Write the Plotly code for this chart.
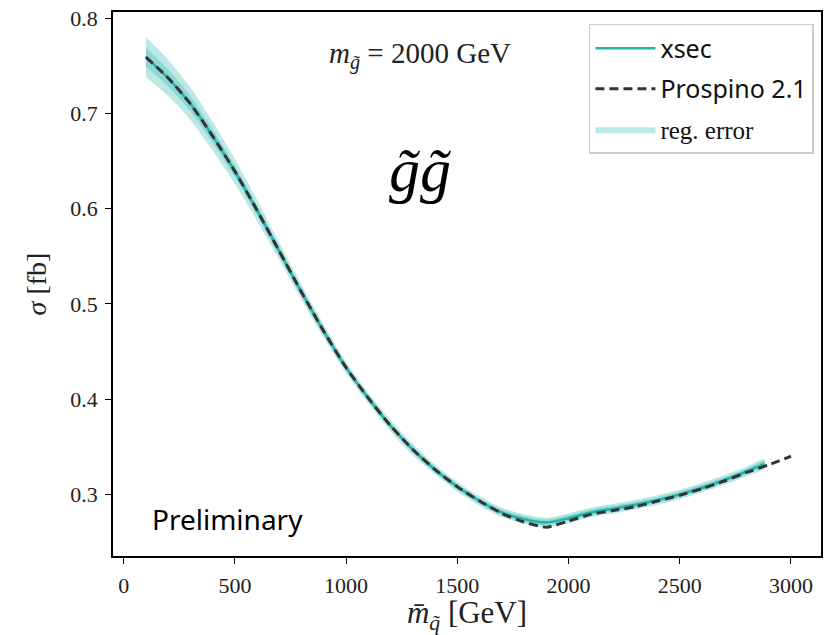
import plotly.graph_objects as go

# ---- data ----
prospino_x = [100, 200, 300, 400, 500, 600, 700, 800, 900, 1000, 1100, 1200, 1300, 1400, 1500,
              1600, 1700, 1800, 1900, 2000, 2100, 2200, 2300, 2400, 2500, 2600, 2700, 2800, 2900, 3000]
prospino_y = [0.759, 0.737, 0.710, 0.676, 0.639, 0.598, 0.555, 0.512, 0.471, 0.433, 0.401, 0.372,
              0.347, 0.326, 0.308, 0.293, 0.280, 0.271, 0.2655, 0.272, 0.279, 0.283, 0.287, 0.293,
              0.299, 0.306, 0.314, 0.323, 0.331, 0.340]

xsec_x = [100, 200, 300, 400, 500, 600, 700, 800, 900, 1000, 1100, 1200, 1300, 1400, 1500,
          1600, 1700, 1800, 1900, 2000, 2100, 2200, 2300, 2400, 2500, 2600, 2700, 2800, 2880]
xsec_y = [0.759, 0.737, 0.710, 0.676, 0.639, 0.598, 0.555, 0.512, 0.471, 0.433, 0.401, 0.372,
          0.347, 0.326, 0.308, 0.293, 0.281, 0.274, 0.2705, 0.275, 0.281, 0.285, 0.289, 0.294,
          0.300, 0.307, 0.315, 0.324, 0.332]
err_outer = [0.021, 0.019, 0.017, 0.015, 0.013, 0.011, 0.009, 0.008, 0.007, 0.006, 0.006, 0.006,
             0.006, 0.005, 0.005, 0.005, 0.005, 0.005, 0.005, 0.005, 0.005, 0.005, 0.005, 0.005,
             0.005, 0.005, 0.005, 0.005, 0.005]
err_inner = [0.010, 0.009, 0.008, 0.007, 0.006, 0.005, 0.005, 0.004, 0.004, 0.003, 0.003, 0.003,
             0.003, 0.003, 0.003, 0.003, 0.003, 0.003, 0.003, 0.003, 0.003, 0.003, 0.003, 0.003,
             0.003, 0.003, 0.003, 0.003, 0.003]

x_ticks = [0, 500, 1000, 1500, 2000, 2500, 3000]
y_ticks = [0.3, 0.4, 0.5, 0.6, 0.7, 0.8]

TEAL = "rgb(32,178,170)"
BAND = "rgba(32,178,170,0.3)"
SERIF = "Liberation Serif"
SANS = "Noto Sans"

fig = go.Figure()


def band(err, name, show):
    up = [y + e for y, e in zip(xsec_y, err)]
    lo = [y - e for y, e in zip(xsec_y, err)]
    return go.Scatter(
        x=xsec_x + xsec_x[::-1], y=up + lo[::-1], fill="toself", fillcolor=BAND,
        line=dict(width=0, color=BAND, shape="spline", smoothing=0.8), mode="lines",
        name=name, showlegend=show, legendgroup="c", legendrank=3, hoverinfo="skip")


fig.add_trace(band(err_outer, f'<span style="font-family:{SERIF}">reg. error</span>', True))
fig.add_trace(band(err_inner, "inner", False))
fig.add_trace(go.Scatter(x=xsec_x, y=xsec_y, mode="lines", name="xsec",
                         line=dict(color=TEAL, width=2.5, shape="spline", smoothing=0.8),
                         legendgroup="a", legendrank=1))
fig.add_trace(go.Scatter(x=prospino_x, y=prospino_y, mode="lines", name="Prospino 2.1",
                         line=dict(color="#333333", width=3, dash="9px,5px",
                                   shape="spline", smoothing=0.6),
                         legendgroup="b", legendrank=2))

axis_common = dict(showline=True, linecolor="black", linewidth=1.5, mirror=True,
                   ticks="outside", ticklen=6, tickwidth=1.3, tickcolor="black",
                   showgrid=False, zeroline=False, ticklabelstandoff=3,
                   tickfont=dict(family=SERIF, size=22, color="#222"))

fig.update_xaxes(range=[-48, 3135], tickvals=x_ticks, ticktext=[str(v) for v in x_ticks],
                 title=dict(text="<i>m̄</i><sub><i>q̃</i></sub> [GeV]",
                            font=dict(family=SERIF, size=31, color="#222"), standoff=4),
                 **axis_common)
fig.update_yaxes(range=[0.2353, 0.8063], tickvals=y_ticks, ticktext=[f"{v:.1f}" for v in y_ticks],
                 title=dict(text="<i>σ</i> [fb]", font=dict(family=SERIF, size=28, color="#222"),
                            standoff=16),
                 **axis_common)

fig.update_layout(
    width=829, height=635,
    margin=dict(l=113, r=6, t=9, b=79),
    plot_bgcolor="white", paper_bgcolor="white",
    legend=dict(x=0.99, y=0.978, xanchor="right", yanchor="top",
                bgcolor="white", bordercolor="#cccccc", borderwidth=1.5,
                font=dict(family=SANS, size=25, color="#111"),
                itemwidth=60, tracegroupgap=5),
    annotations=[
        dict(text="<i>m</i><sub><i>g̃</i></sub> = 2000 GeV", xref="paper", yref="paper",
             x=0.434, y=0.958, showarrow=False, font=dict(family=SERIF, size=29, color="#222")),
        dict(text="<i>g̃g̃</i>", xref="paper", yref="paper", x=0.434, y=0.776,
             showarrow=False, font=dict(family=SERIF, size=62, color="black")),
        dict(text="Preliminary", xref="paper", yref="paper", x=0.052, y=0.030,
             xanchor="left", showarrow=False, font=dict(family=SANS, size=28, color="black")),
    ],
)

fig.write_html("out.html")
